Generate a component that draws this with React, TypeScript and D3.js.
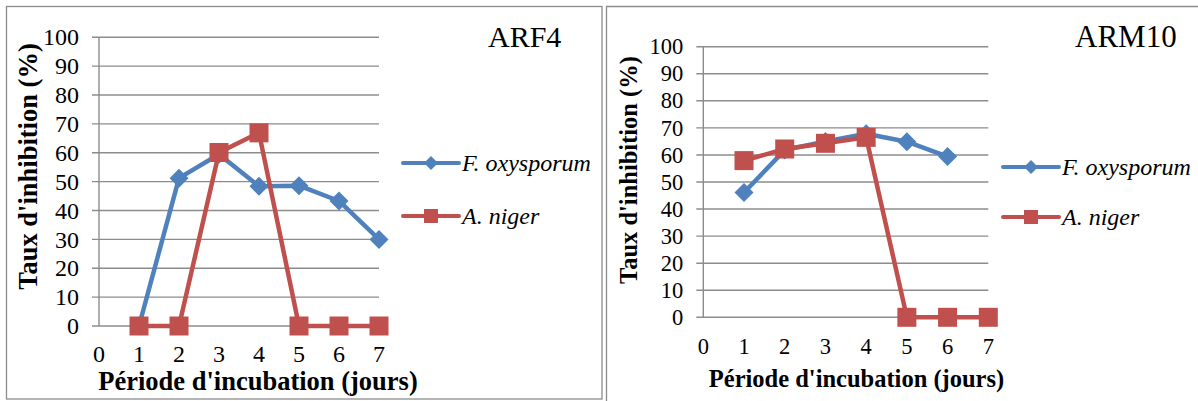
import * as d3 from "d3";

// jours d'incubation (axe x) et graduations de l'axe y
const DAYS = [0, 1, 2, 3, 4, 5, 6, 7];
const Y_TICKS = [0, 10, 20, 30, 40, 50, 60, 70, 80, 90, 100];

// taux d'inhibition (%) par jour, null = pas de mesure
const ARF4_FUSARIUM = [null, 0, 51.2, 59.5, 48.4, 48.6, 43.3, 30.0];
const ARF4_NIGER = [null, 0, 0, 60.1, 66.9, 0, 0, 0];
const ARM10_FUSARIUM = [null, 46.1, 61.8, 65.0, 67.8, 64.9, 59.4, null];
const ARM10_NIGER = [null, 57.9, 62.2, 64.3, 66.5, 0, 0, 0];

const SERIES_NAMES = ["F. oxysporum", "A. niger"];
const BLUE = "#4F81BD";
const RED = "#C0504D";
const GRID = "#8c8c8c";
const FONT = "'Liberation Serif', 'Times New Roman', serif";

type PanelProps = {
    title: string;
    fusarium: (number | null)[];
    niger: (number | null)[];
    // layout in page pixels
    x0: number;
    x1: number;
    y0: number;
    y1: number;
    tickFont: number;
    titleFont: number;
    axisTitleFont: number;
    yTitleX: number;
    yTitleY: number;
    xTitleX: number;
    xTitleY: number;
    xLabelY: number;
    titleX: number;
    legendX: number;
    legendY: number[];
};

const diamond = (cx: number, cy: number, r: number) =>
    `M${cx},${cy - r}L${cx + r},${cy}L${cx},${cy + r}L${cx - r},${cy}Z`;

const Panel = (p: PanelProps) => {
    const xScale = d3.scaleLinear().domain([0, 7]).range([p.x0, p.x1]);
    const yScale = d3.scaleLinear().domain([0, 100]).range([p.y1, p.y0]);

    const line = d3
        .line<number | null>()
        .defined((d) => d !== null)
        .x((_, i) => xScale(i))
        .y((d) => yScale(d as number));

    const points = (vals: (number | null)[]) =>
        vals.map((v, i) => ({ i, v })).filter((d) => d.v !== null) as { i: number; v: number }[];

    return (
        <g>
            {/* grid + y ticks */}
            {Y_TICKS.map((t) => (
                <g key={t}>
                    <line
                        x1={p.x0 - 7}
                        x2={t === 0 ? p.x1 : p.x1}
                        y1={yScale(t)}
                        y2={yScale(t)}
                        stroke={GRID}
                        strokeWidth={1.4}
                    />
                    <text
                        x={p.x0 - 20}
                        y={yScale(t)}
                        dy="0.34em"
                        textAnchor="end"
                        fontSize={p.tickFont}
                        fontFamily={FONT}
                    >
                        {t}
                    </text>
                </g>
            ))}
            <line x1={p.x0} x2={p.x0} y1={p.y0} y2={p.y1} stroke={GRID} strokeWidth={1.4} />

            {/* x labels */}
            {DAYS.map((d) => (
                <text
                    key={d}
                    x={xScale(d)}
                    y={p.xLabelY}
                    textAnchor="middle"
                    fontSize={p.tickFont}
                    fontFamily={FONT}
                >
                    {d}
                </text>
            ))}

            {/* series */}
            <path d={line(p.fusarium) ?? ""} fill="none" stroke={BLUE} strokeWidth={4.5} strokeLinejoin="round" />
            {points(p.fusarium).map((d) => (
                <path key={d.i} d={diamond(xScale(d.i), yScale(d.v), 9.5)} fill={BLUE} />
            ))}
            <path d={line(p.niger) ?? ""} fill="none" stroke={RED} strokeWidth={4.5} strokeLinejoin="round" />
            {points(p.niger).map((d) => (
                <rect
                    key={d.i}
                    x={xScale(d.i) - 9.5}
                    y={yScale(d.v) - 9.5}
                    width={19}
                    height={19}
                    fill={RED}
                />
            ))}

            {/* titles */}
            <text
                transform={`translate(${p.yTitleX},${p.yTitleY}) rotate(-90)`}
                textAnchor="middle"
                fontSize={p.axisTitleFont}
                fontWeight="bold"
                fontFamily={FONT}
            >
                Taux d'inhibition (%)
            </text>
            <text
                x={p.xTitleX}
                y={p.xTitleY}
                textAnchor="middle"
                fontSize={p.axisTitleFont}
                fontWeight="bold"
                fontFamily={FONT}
            >
                Période d'incubation (jours)
            </text>
            <text x={p.titleX} y={47} fontSize={p.titleFont} fontFamily={FONT}>
                {p.title}
            </text>

            {/* legend */}
            {SERIES_NAMES.map((name, k) => {
                const ly = p.legendY[k];
                const color = k === 0 ? BLUE : RED;
                const mx = p.legendX + 28;
                return (
                    <g key={name}>
                        <line
                            x1={p.legendX}
                            x2={p.legendX + 56}
                            y1={ly}
                            y2={ly}
                            stroke={color}
                            strokeWidth={4}
                            strokeLinecap="round"
                        />
                        {k === 0 ? (
                            <path d={diamond(mx, ly, 7)} fill={color} />
                        ) : (
                            <rect x={mx - 7} y={ly - 7} width={14} height={14} fill={color} />
                        )}
                        <text
                            x={p.legendX + 59}
                            y={ly}
                            dy="0.32em"
                            fontSize={24}
                            fontStyle="italic"
                            fontFamily={FONT}
                        >
                            {name}
                        </text>
                    </g>
                );
            })}
        </g>
    );
};

export default function App() {
    return (
        <svg
            width={1198}
            height={401}
            style={{ position: "absolute", left: 0, top: 0, background: "#fff" }}
        >
            {/* frames */}
            <rect x={6.5} y={6.5} width={595.5} height={392.5} fill="none" stroke={GRID} strokeWidth={1.3} />
            <path d="M606.5,401V6.5H1198" fill="none" stroke={GRID} strokeWidth={1.3} />

            <Panel
                title="ARF4"
                fusarium={ARF4_FUSARIUM}
                niger={ARF4_NIGER}
                x0={99}
                x1={379}
                y0={37.3}
                y1={326}
                tickFont={24}
                titleFont={30}
                axisTitleFont={26.5}
                yTitleX={37}
                yTitleY={166.5}
                xTitleX={258}
                xTitleY={390}
                xLabelY={362}
                titleX={488}
                legendX={403}
                legendY={[163, 216]}
            />
            <Panel
                title="ARM10"
                fusarium={ARM10_FUSARIUM}
                niger={ARM10_NIGER}
                x0={703.3}
                x1={988.3}
                y0={46.7}
                y1={317.3}
                tickFont={22.5}
                titleFont={31}
                axisTitleFont={24.5}
                yTitleX={637}
                yTitleY={170}
                xTitleX={856.5}
                xTitleY={387}
                xLabelY={354}
                titleX={1075}
                legendX={1003}
                legendY={[167, 217]}
            />
        </svg>
    );
}
